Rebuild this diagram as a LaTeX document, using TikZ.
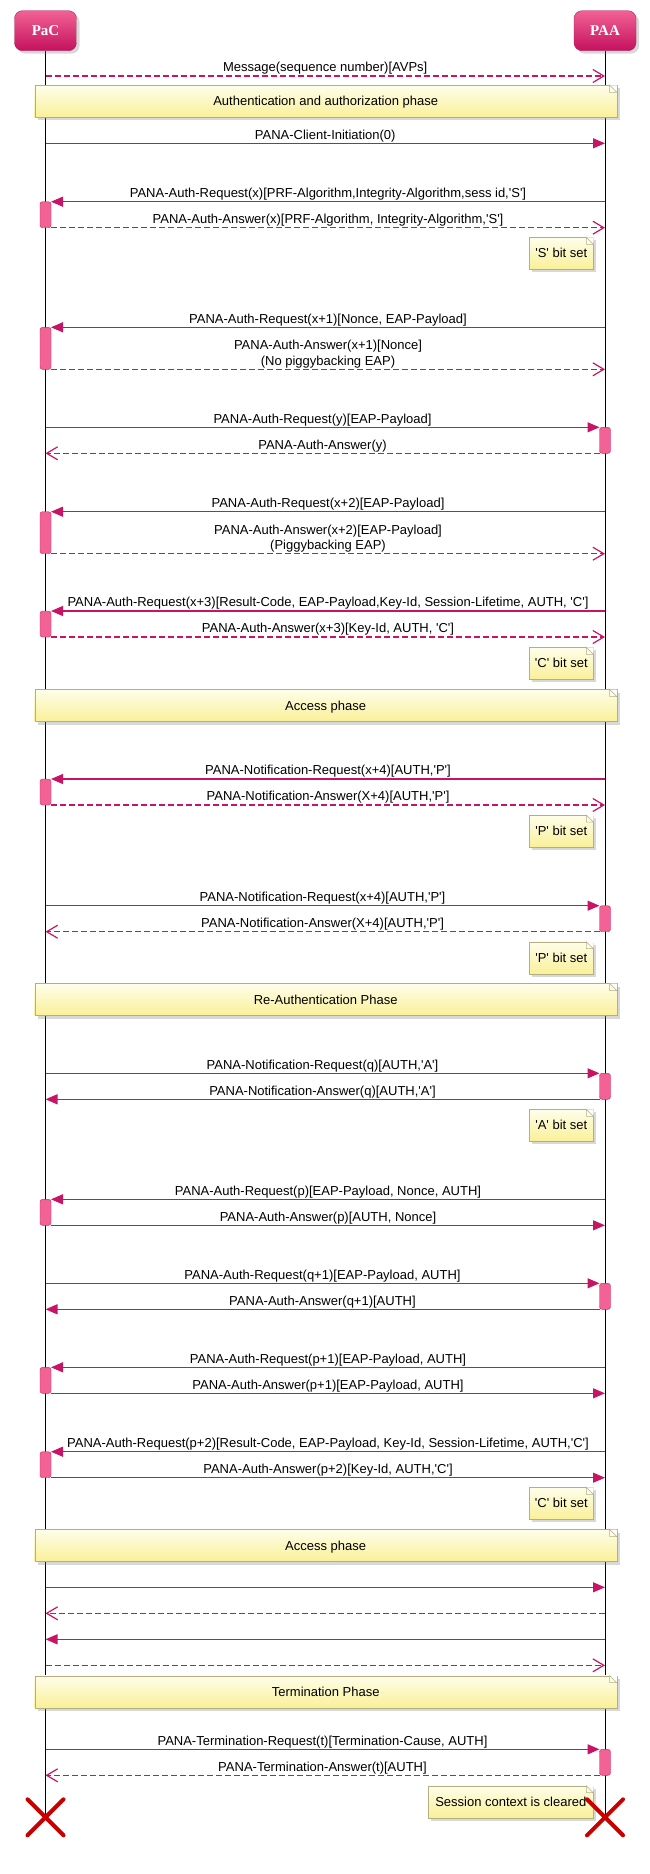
\documentclass[tikz,border=0pt]{standalone}
\usepackage{fontspec}
\setmainfont{Liberation Sans}
\newfontfamily\headfont{Liberation Serif}
\usetikzlibrary{backgrounds}
\usetikzlibrary{arrows.meta,positioning,shadows,shapes.misc}
\definecolor{msgc}{RGB}{200,20,100}
\definecolor{parttop}{RGB}{242,98,148}
\definecolor{partbot}{RGB}{196,18,94}
\definecolor{partbd}{RGB}{170,30,85}
\definecolor{actfill}{RGB}{242,98,148}
\definecolor{actbd}{RGB}{205,40,105}
\definecolor{notetop}{RGB}{254,254,234}
\definecolor{notebot}{RGB}{250,240,152}
\definecolor{notebd}{RGB}{180,175,130}
\definecolor{killc}{RGB}{200,0,0}
\newcommand{\sq}{\textquotesingle}

\begin{document}
\begin{tikzpicture}[x=1pt,y=-1pt]
\tikzset{
    part/.style={rounded corners=8pt,draw=partbd,top color=parttop,bottom color=partbot,
        minimum width=62pt,minimum height=40pt,inner sep=0pt,text=white,
        font=\headfont\bfseries\fontsize{15}{18}\selectfont,text height=10pt,text depth=0pt,
        drop shadow={shadow xshift=3pt,shadow yshift=-3pt,opacity=.3}},
    act/.style={draw=actbd,fill=actfill,rounded corners=2.5pt,minimum width=11pt,
        minimum height=26pt,inner sep=0pt,outer sep=0pt},
    phase/.style={draw=notebd,top color=notetop,bottom color=notebot,minimum width=582pt,
        minimum height=32pt,inner sep=0pt,outer sep=0pt,text height=10pt,text depth=1pt,
        font=\fontsize{13}{15.6}\selectfont,
        drop shadow={shadow xshift=3pt,shadow yshift=-3pt,opacity=.3}},
    bitnote/.style={phase,minimum width=64pt},
    fold/.style={draw=notebd,fill=notetop,line width=.5pt},
    kill/.style={cross out,draw=killc,line width=4pt,line cap=round,minimum size=32pt,inner sep=0pt},
    life/.style={black,line width=.8pt},
    lbl/.style={anchor=south,inner sep=0pt,text depth=0pt,yshift=3.5pt,align=center,
        text=black,font=\fontsize{13}{15.6}\selectfont},
    req/.style={msgc,line width=1.2pt,-{Triangle[length=12pt,width=10pt]}},
    rep/.style={msgc,line width=1.2pt,dash pattern=on 6pt off 3pt,
        -{Straight Barb[length=11pt,width=13pt,line width=1.2pt]}}
}
\useasboundingbox (0,0) rectangle (649,1874);
  % participants
\node[part] (pac) at (45.5,30.7) {PaC};
\node[part] (paa) at (605,30.7) {PAA};
% lifeline ends
\foreach \i/\y in {1/76,2/143.3,3/201.7,4/227.7,5/327.3,6/369.3,7/427.3,8/453.3,
    9/511.7,10/553.7,11/611,12/637,13/779,14/805,15/905.7,16/931.7,17/1073.3,
    18/1099.3,19/1199.3,20/1225.3,21/1283.3,22/1309.3,23/1367.3,24/1393.3,
    25/1451.7,26/1477.7,27/1587.3,28/1613.3,29/1639.3,30/1665.3,31/1749.3,32/1775.3}
{
  \coordinate (l\i) at (45.5,\y);
  \coordinate (r\i) at (605,\y);
}
% notes
\node[phase] (ph1) at (325.7,101.3) {Authentication and authorization phase};
\node[bitnote] (bn1) at (561.3,253.3) {\sq S\sq{} bit set};
\node[bitnote] (bn2) at (561.3,663.3) {\sq C\sq{} bit set};
\node[phase] (ph2) at (325.7,705.5) {Access phase};
\node[bitnote] (bn3) at (561.3,831) {\sq P\sq{} bit set};
\node[bitnote] (bn4) at (561.3,957.7) {\sq P\sq{} bit set};
\node[phase] (ph3) at (325.7,999.5) {Re-Authentication Phase};
\node[bitnote] (bn5) at (561.3,1125.3) {\sq A\sq{} bit set};
\node[bitnote] (bn6) at (561.3,1503.3) {\sq C\sq{} bit set};
\node[phase] (ph4) at (325.7,1545.5) {Access phase};
\node[phase] (ph5) at (325.7,1691.7) {Termination Phase};
\node[bitnote,minimum width=165pt] (bn7) at (510.8,1801.7) {Session context is cleared};
\foreach \n in {ph1,ph2,ph3,ph4,ph5,bn1,bn2,bn3,bn4,bn5,bn6,bn7}
{
  \fill[white] ([xshift=-7pt]\n.north east) -- ([xshift=.5pt]\n.north east)
    -- ([yshift=-7pt]\n.north east) -- cycle;
  \draw[fold] ([xshift=-7pt]\n.north east) |- ([yshift=-7pt]\n.north east) -- cycle;
}
% activations
\node[act] (a1) at (45.5,214.7) {};
\node[act,minimum height=42pt] (a2) at (45.5,348.3) {};
\node[act] (a3) at (605,440.3) {};
\node[act,minimum height=42pt] (a4) at (45.5,532.7) {};
\node[act] (a5) at (45.5,624) {};
\node[act] (a6) at (45.5,792) {};
\node[act] (a7) at (605,918.7) {};
\node[act] (a8) at (605,1086.3) {};
\node[act] (a9) at (45.5,1212.3) {};
\node[act] (a10) at (605,1296.3) {};
\node[act] (a11) at (45.5,1380.3) {};
\node[act] (a12) at (45.5,1464.7) {};
\node[act] (a13) at (605,1762.3) {};
% destroyed
\node[kill] (xl) at (45.5,1817.3) {};
\node[kill] (xr) at (605,1817.3) {};
\begin{scope}[on background layer]
\fill[white] (0,0) rectangle (649,1874);
\draw[life] (pac) -- (xl.center);
\draw[life] (paa) -- (xr.center);
\end{scope}
% messages
\path
(l1) edge[rep] node[lbl,name=m1] {Message(sequence number)[AVPs]} (r1)
(l2) edge[req] node[lbl,name=m2] {PANA-Client-Initiation(0)} (r2)
(r3) edge[req] node[lbl,name=m3] {PANA-Auth-Request(x)[PRF-Algorithm,Integrity-Algorithm,sess id,\sq S\sq]} (a1.north east)
(a1.south east) edge[rep] node[lbl,name=m4] {PANA-Auth-Answer(x)[PRF-Algorithm, Integrity-Algorithm,\sq S\sq]} (r4)
(r5) edge[req] node[lbl,name=m5] {PANA-Auth-Request(x+1)[Nonce, EAP-Payload]} (a2.north east)
(a2.south east) edge[rep] node[lbl,name=m6] {PANA-Auth-Answer(x+1)[Nonce]\\(No piggybacking EAP)} (r6)
(l7) edge[req] node[lbl,name=m7] {PANA-Auth-Request(y)[EAP-Payload]} (a3.north west)
(a3.south west) edge[rep] node[lbl,name=m8] {PANA-Auth-Answer(y)} (l8)
(r9) edge[req] node[lbl,name=m9] {PANA-Auth-Request(x+2)[EAP-Payload]} (a4.north east)
(a4.south east) edge[rep] node[lbl,name=m10] {PANA-Auth-Answer(x+2)[EAP-Payload]\\(Piggybacking EAP)} (r10)
(r11) edge[req] node[lbl,name=m11] {PANA-Auth-Request(x+3)[Result-Code, EAP-Payload,Key-Id, Session-Lifetime, AUTH, \sq C\sq]} (a5.north east)
(a5.south east) edge[rep] node[lbl,name=m12] {PANA-Auth-Answer(x+3)[Key-Id, AUTH, \sq C\sq]} (r12)
(r13) edge[req] node[lbl,name=m13] {PANA-Notification-Request(x+4)[AUTH,\sq P\sq]} (a6.north east)
(a6.south east) edge[rep] node[lbl,name=m14] {PANA-Notification-Answer(X+4)[AUTH,\sq P\sq]} (r14)
(l15) edge[req] node[lbl,name=m15] {PANA-Notification-Request(x+4)[AUTH,\sq P\sq]} (a7.north west)
(a7.south west) edge[rep] node[lbl,name=m16] {PANA-Notification-Answer(X+4)[AUTH,\sq P\sq]} (l16)
(l17) edge[req] node[lbl,name=m17] {PANA-Notification-Request(q)[AUTH,\sq A\sq]} (a8.north west)
(a8.south west) edge[req] node[lbl,name=m18] {PANA-Notification-Answer(q)[AUTH,\sq A\sq]} (l18)
(r19) edge[req] node[lbl,name=m19] {PANA-Auth-Request(p)[EAP-Payload, Nonce, AUTH]} (a9.north east)
(a9.south east) edge[req] node[lbl,name=m20] {PANA-Auth-Answer(p)[AUTH, Nonce]} (r20)
(l21) edge[req] node[lbl,name=m21] {PANA-Auth-Request(q+1)[EAP-Payload, AUTH]} (a10.north west)
(a10.south west) edge[req] node[lbl,name=m22] {PANA-Auth-Answer(q+1)[AUTH]} (l22)
(r23) edge[req] node[lbl,name=m23] {PANA-Auth-Request(p+1)[EAP-Payload, AUTH]} (a11.north east)
(a11.south east) edge[req] node[lbl,name=m24] {PANA-Auth-Answer(p+1)[EAP-Payload, AUTH]} (r24)
(r25) edge[req] node[lbl,name=m25] {PANA-Auth-Request(p+2)[Result-Code, EAP-Payload, Key-Id, Session-Lifetime, AUTH,\sq C\sq]} (a12.north east)
(a12.south east) edge[req] node[lbl,name=m26] {PANA-Auth-Answer(p+2)[Key-Id, AUTH,\sq C\sq]} (r26)
(l27) edge[req] (r27)
(r28) edge[rep] (l28)
(r29) edge[req] (l29)
(l30) edge[rep] (r30)
(l31) edge[req] node[lbl,name=m31] {PANA-Termination-Request(t)[Termination-Cause, AUTH]} (a13.north west)
(a13.south west) edge[rep] node[lbl,name=m32] {PANA-Termination-Answer(t)[AUTH]} (l32)
;
\end{tikzpicture}
\end{document}
